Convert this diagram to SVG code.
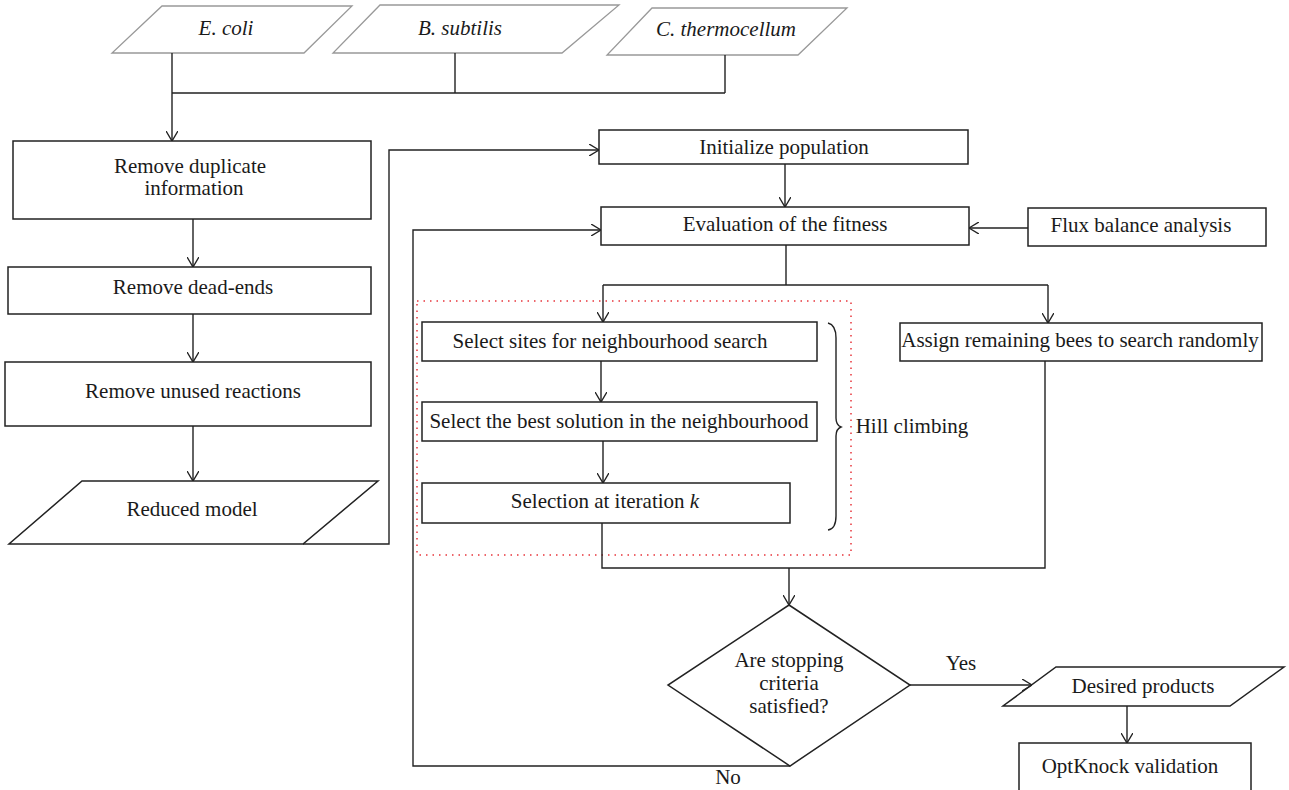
<svg xmlns="http://www.w3.org/2000/svg" width="1289" height="790" viewBox="0 0 1289 790">
<style>
.box{fill:#fff;stroke:#222;stroke-width:1.5}
.io{fill:#fff;stroke:#999;stroke-width:1.3}
.ln{fill:none;stroke:#222;stroke-width:1.4}
.t{font-family:"Liberation Serif","Times New Roman",serif;font-size:21px;fill:#1a1a1a;text-anchor:middle}
.i{font-style:italic}
.dot{fill:none;stroke:#e8353b;stroke-width:1.5;stroke-dasharray:1.5 5}
</style>
<defs>
<marker id="arr" viewBox="0 0 10 12" refX="10" refY="6" markerWidth="10" markerHeight="12" markerUnits="userSpaceOnUse" orient="auto">
<path d="M0,0 L10,6 L0,12" fill="none" stroke="#222" stroke-width="1.4"/>
</marker>
</defs>

<g id="ecoli"><polygon class="io" points="162,6 352,6 304,53 112,53"/><text class="t i" x="226" y="35">E. coli</text></g>
<g id="bsubtilis"><polygon class="io" points="380,5 619,5 562,53 333,53"/><text class="t i" x="460" y="35">B. subtilis</text></g>
<g id="cthermo"><polygon class="io" points="652,8 847,8 798,55 607,55"/><text class="t i" x="726" y="36">C. thermocellum</text></g>

<g id="dup"><rect class="box" x="13" y="141" width="358" height="78"/><text class="t" x="190" y="173">Remove duplicate</text><text class="t" x="194" y="195">information</text></g>
<g id="dead"><rect class="box" x="8" y="267" width="363" height="47"/><text class="t" x="193" y="294">Remove dead-ends</text></g>
<g id="unused"><rect class="box" x="5" y="362" width="366" height="64"/><text class="t" x="193" y="398">Remove unused reactions</text></g>
<g id="reduced"><polygon class="box" points="82,481 378,481 303,544 9,544"/><text class="t" x="192" y="516">Reduced model</text></g>

<g id="init"><rect class="box" x="599" y="130" width="369" height="34"/><text class="t" x="784" y="154">Initialize population</text></g>
<g id="eval"><rect class="box" x="601" y="207" width="368" height="38"/><text class="t" x="785" y="231">Evaluation of the fitness</text></g>
<g id="flux"><rect class="box" x="1028" y="208" width="238" height="38"/><text class="t" x="1141" y="232">Flux balance analysis</text></g>

<g id="hillgroup"><rect class="dot" x="417" y="301" width="434" height="254"/></g>
<g id="sites"><rect class="box" x="422" y="322" width="395" height="39"/><text class="t" x="610" y="348">Select sites for neighbourhood search</text></g>
<g id="best"><rect class="box" x="422" y="402" width="395" height="39"/><text class="t" x="619" y="428">Select the best solution in the neighbourhood</text></g>
<g id="selk"><rect class="box" x="422" y="483" width="368" height="40"/><text class="t" x="605" y="508">Selection at iteration <tspan class="i">k</tspan></text></g>
<g id="hill"><path class="ln" d="M828,323 Q836,325 836,338 L836,418 Q836,425 841,427 Q836,429 836,436 L836,516 Q836,529 828,530"/><text class="t" x="912" y="433">Hill climbing</text></g>

<g id="assign"><rect class="box" x="900" y="323" width="362" height="38"/><text class="t" x="1080" y="347">Assign remaining bees to search randomly</text></g>

<g id="decision"><polygon class="box" points="789,605 910,685 790,766 668,685"/><text class="t" x="789" y="667">Are stopping</text><text class="t" x="789" y="690">criteria</text><text class="t" x="789" y="713">satisfied?</text></g>

<g id="desired"><polygon class="box" points="1056,667 1284,667 1230,706 1003,706"/><text class="t" x="1143" y="693">Desired products</text></g>
<g id="optknock"><rect class="box" x="1019" y="743" width="232" height="50"/><text class="t" x="1130" y="773">OptKnock validation</text></g>

<g id="connectors">
<path class="ln" d="M172,53 L172,141" marker-end="url(#arr)"/>
<path class="ln" d="M172,93 L725,93 M455,53 L455,93 M725,55 L725,93"/>
<path class="ln" d="M193,219 L193,267" marker-end="url(#arr)"/>
<path class="ln" d="M193,314 L193,362" marker-end="url(#arr)"/>
<path class="ln" d="M193,426 L193,481" marker-end="url(#arr)"/>
<path class="ln" d="M303,544 L389,544 L389,150 L599,150" marker-end="url(#arr)"/>
<path class="ln" d="M785,164 L785,207" marker-end="url(#arr)"/>
<path class="ln" d="M1028,228 L969,228" marker-end="url(#arr)"/>
<path class="ln" d="M786,245 L786,285"/>
<path class="ln" d="M603,285 L1048,285"/>
<path class="ln" d="M603,285 L603,322" marker-end="url(#arr)"/>
<path class="ln" d="M1048,285 L1048,323" marker-end="url(#arr)"/>
<path class="ln" d="M601,361 L601,402" marker-end="url(#arr)"/>
<path class="ln" d="M603,441 L603,483" marker-end="url(#arr)"/>
<path class="ln" d="M602,523 L602,568 L1045,568 L1045,361"/>
<path class="ln" d="M789,568 L789,605" marker-end="url(#arr)"/>
<path class="ln" d="M910,685 L1032,685" marker-end="url(#arr)"/>
<path class="ln" d="M1127,706 L1127,743" marker-end="url(#arr)"/>
<path class="ln" d="M790,766 L413,766 L413,230 L601,230" marker-end="url(#arr)"/>
<text class="t" x="961" y="670">Yes</text>
<text class="t" x="728" y="784">No</text>
</g>
</svg>
